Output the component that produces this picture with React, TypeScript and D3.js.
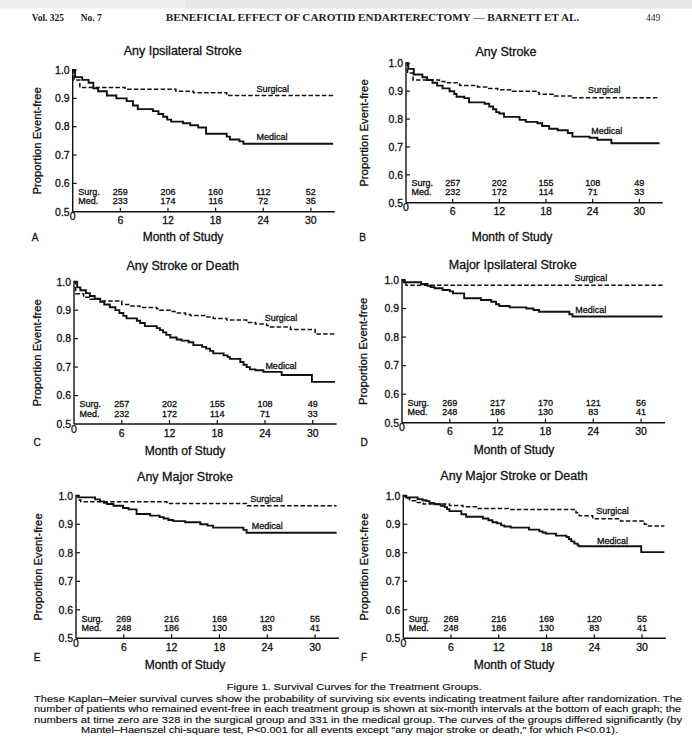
import * as d3 from 'd3'

type Pt = [number, number]

const MONTH_TICKS = [0, 6, 12, 18, 24, 30]
const RISK_MONTHS = [6, 12, 18, 24, 30]
const VALUE_TICKS = [0.5, 0.6, 0.7, 0.8, 0.9, 1.0]
const TITLES = [
  'Any Ipsilateral Stroke',
  'Any Stroke',
  'Any Stroke or Death',
  'Major Ipsilateral Stroke',
  'Any Major Stroke',
  'Any Major Stroke or Death',
]
const LETTERS = ['A', 'B', 'C', 'D', 'E', 'F']

// Kaplan-Meier steps, [month, proportion event-free]
const ipsiSurgical: Pt[] = [[0, 1], [0.15, 0.965], [0.9, 0.938], [6.6, 0.932], [13, 0.925], [15.2, 0.92], [19.4, 0.91], [32.8, 0.91]]
const ipsiMedical: Pt[] = [
  [0, 1], [0.3, 0.975], [1.2, 0.965], [2.0, 0.955], [2.6, 0.935], [3.2, 0.925], [4.3, 0.91], [5.5, 0.9],
  [6.8, 0.89], [7.6, 0.875], [8.2, 0.862], [10.1, 0.855], [10.8, 0.845], [11.4, 0.835], [11.9, 0.825],
  [12.4, 0.818], [13.9, 0.812], [14.8, 0.805], [15.8, 0.797], [16.8, 0.775], [19.4, 0.765], [19.8, 0.755],
  [21.0, 0.748], [21.5, 0.74], [32.8, 0.74],
]
const anySurgical: Pt[] = [
  [0, 1], [0.2, 0.965], [0.9, 0.94], [4.3, 0.935], [5.0, 0.93], [6.9, 0.92], [9.2, 0.915], [10.5, 0.91],
  [11.8, 0.905], [13.7, 0.9], [16.7, 0.895], [17.1, 0.889], [19.1, 0.883], [21.4, 0.876], [32.6, 0.876],
]
const anyMedical: Pt[] = [
  [0, 1], [0.3, 0.98], [1.0, 0.96], [2.1, 0.95], [2.7, 0.94], [3.4, 0.93], [4.0, 0.92], [4.7, 0.91],
  [5.6, 0.9], [6.2, 0.89], [6.5, 0.88], [7.5, 0.875], [8.1, 0.86], [10.1, 0.855], [10.7, 0.845],
  [11.2, 0.835], [11.6, 0.825], [12.0, 0.82], [12.6, 0.808], [14.6, 0.797], [15.4, 0.79], [16.9, 0.785],
  [17.5, 0.775], [18.4, 0.765], [19.5, 0.76], [20.8, 0.75], [21.4, 0.737], [23.6, 0.733], [24.6, 0.726],
  [26.4, 0.713], [32.6, 0.713],
]
const deathSurgical: Pt[] = [
  [0, 1], [0.2, 0.958], [1.2, 0.945], [2.0, 0.938], [3.5, 0.932], [6.0, 0.92], [7.0, 0.915], [8.3, 0.909],
  [10.4, 0.905], [10.8, 0.9], [12.1, 0.895], [12.7, 0.89], [14.0, 0.885], [14.6, 0.881], [16.7, 0.876],
  [17.5, 0.871], [19.2, 0.865], [21.7, 0.857], [22.8, 0.851], [24.2, 0.846], [24.7, 0.841], [27.2, 0.832],
  [30.3, 0.816], [32.8, 0.816],
]
const deathMedical: Pt[] = [
  [0, 1], [0.4, 0.98], [0.8, 0.97], [1.5, 0.96], [2.0, 0.95], [2.6, 0.94], [3.3, 0.929], [3.8, 0.92],
  [4.5, 0.91], [5.2, 0.9], [5.7, 0.89], [6.2, 0.88], [6.6, 0.871], [7.9, 0.863], [8.3, 0.855], [8.9, 0.844],
  [10.4, 0.837], [10.8, 0.83], [11.2, 0.822], [11.6, 0.813], [12.1, 0.804], [12.9, 0.797], [13.5, 0.793],
  [14.4, 0.787], [15.0, 0.777], [16.1, 0.771], [16.6, 0.765], [17.1, 0.757], [17.5, 0.748], [18.8, 0.741],
  [19.3, 0.735], [19.6, 0.729], [20.9, 0.718], [21.3, 0.708], [21.7, 0.7], [22.1, 0.692], [22.8, 0.689],
  [23.8, 0.683], [26.1, 0.672], [29.9, 0.648], [32.8, 0.648],
]
const majIpsiSurgical: Pt[] = [[0, 1], [0.2, 0.99], [0.5, 0.982], [32.7, 0.982]]
const majIpsiMedical: Pt[] = [
  [0, 1], [0.3, 0.992], [2.4, 0.986], [3.2, 0.98], [3.6, 0.975], [4.1, 0.971], [5.1, 0.965], [6.0, 0.96],
  [6.4, 0.953], [7.8, 0.936], [9.9, 0.93], [11.2, 0.924], [11.8, 0.915], [12.2, 0.909], [13.5, 0.904],
  [15.6, 0.9], [16.5, 0.895], [17.2, 0.889], [21.0, 0.88], [21.4, 0.872], [32.7, 0.872],
]
const majorSurgical: Pt[] = [[0, 1], [0.3, 0.985], [0.6, 0.979], [11.4, 0.973], [21.4, 0.965], [32.7, 0.965]]
const majorMedical: Pt[] = [
  [0, 1], [0.3, 0.994], [2.4, 0.987], [3.0, 0.98], [3.5, 0.975], [3.9, 0.971], [4.7, 0.965], [5.9, 0.957],
  [6.6, 0.952], [7.6, 0.936], [9.3, 0.93], [10.5, 0.925], [11.0, 0.92], [11.6, 0.915], [12.2, 0.911],
  [13.7, 0.907], [15.6, 0.9], [16.5, 0.895], [17.2, 0.888], [21.0, 0.88], [21.4, 0.87], [32.7, 0.87],
]
const majDeathSurgical: Pt[] = [
  [0, 1], [0.3, 0.99], [0.8, 0.982], [1.6, 0.976], [2.5, 0.971], [5.8, 0.966], [7.5, 0.961], [9.3, 0.955],
  [13.3, 0.952], [21.7, 0.94], [22.1, 0.93], [23.8, 0.919], [27.3, 0.911], [30.3, 0.9], [30.7, 0.894],
  [32.8, 0.894],
]
const majDeathMedical: Pt[] = [
  [0, 1], [0.3, 0.994], [1.8, 0.988], [2.4, 0.984], [2.9, 0.981], [3.3, 0.975], [3.9, 0.97], [4.7, 0.965],
  [5.2, 0.96], [5.5, 0.953], [5.8, 0.946], [7.3, 0.935], [7.9, 0.926], [10.0, 0.92], [10.7, 0.914],
  [11.2, 0.907], [11.8, 0.903], [12.3, 0.896], [12.7, 0.892], [13.5, 0.888], [15.8, 0.881], [17.1, 0.875],
  [17.5, 0.871], [17.9, 0.867], [19.2, 0.86], [20.5, 0.855], [20.8, 0.848], [21.1, 0.84], [21.5, 0.832],
  [21.9, 0.826], [22.1, 0.823], [29.9, 0.802], [32.8, 0.802],
]

// numbers still event-free at 6, 12, 18, 24, 30 months
const ipsiSurgN = [259, 206, 160, 112, 52]
const ipsiMedN = [233, 174, 116, 72, 35]
const anySurgN = [257, 202, 155, 108, 49]
const anyMedN = [232, 172, 114, 71, 33]
const deathSurgN = [257, 202, 155, 108, 49]
const deathMedN = [232, 172, 114, 71, 33]
const majIpsiSurgN = [269, 217, 170, 121, 56]
const majIpsiMedN = [248, 186, 130, 83, 41]
const majorSurgN = [269, 216, 169, 120, 55]
const majorMedN = [248, 186, 130, 83, 41]
const majDeathSurgN = [269, 216, 169, 120, 55]
const majDeathMedN = [248, 186, 130, 83, 41]

const CAPTION_TITLE = 'Figure 1. Survival Curves for the Treatment Groups.'
const CAPTION_LINES = [
  'These Kaplan\u2013Meier survival curves show the probability of surviving six events indicating treatment failure after randomization. The',
  'number of patients who remained event-free in each treatment group is shown at six-month intervals at the bottom of each graph; the',
  'numbers at time zero are 328 in the surgical group and 331 in the medical group. The curves of the groups differed significantly (by',
  'Mantel\u2013Haenszel chi-square test, P<0.001 for all events except "any major stroke or death," for which P<0.01).',
]

const SANS = '"Liberation Sans", Arial, Helvetica, sans-serif'
const SERIF = '"Liberation Serif", "Times New Roman", serif'
const INK = '#111'

// page layout of each panel (axis origin, plot size, label spots)
const LAYOUT = [
  { x0: 72.7, y0: 211.7, w: 262, h: 141.7, tx: 182.7, ty: 54.5, mx: 183, my: 241, lx: 35, ly: 241, yl: 41, sLab: [25.2, 0.934], mLab: [25.1, 0.764] },
  { x0: 406, y0: 202.7, w: 256.7, h: 139.4, tx: 506, ty: 56, mx: 512, my: 241, lx: 362.7, ly: 241, yl: 368, sLab: [25.5, 0.905], mLab: [25.8, 0.758] },
  { x0: 74, y0: 424, w: 262.6, h: 142.3, tx: 182.7, ty: 269.5, mx: 185, my: 455, lx: 37, ly: 445.5, yl: 40.7, sLab: [26.0, 0.873], mLab: [26.0, 0.703] },
  { x0: 402, y0: 422.7, w: 263, h: 142.7, tx: 512.7, ty: 268.5, mx: 514, my: 454, lx: 364, ly: 445.5, yl: 366.7, sLab: [23.7, 1.007], mLab: [23.7, 0.897] },
  { x0: 76, y0: 638.3, w: 263, h: 142.6, tx: 185, ty: 481, mx: 185, my: 669, lx: 37, ly: 660.5, yl: 41.7, sLab: [23.9, 0.99], mLab: [24.0, 0.895] },
  { x0: 403.3, y0: 638.3, w: 262.6, h: 142.6, tx: 514, ty: 479.5, mx: 514, my: 669, lx: 364, ly: 660.5, yl: 368.3, sLab: [26.3, 0.946], mLab: [26.3, 0.843] },
]

const SERIES = [
  [ipsiSurgical, ipsiMedical, ipsiSurgN, ipsiMedN],
  [anySurgical, anyMedical, anySurgN, anyMedN],
  [deathSurgical, deathMedical, deathSurgN, deathMedN],
  [majIpsiSurgical, majIpsiMedical, majIpsiSurgN, majIpsiMedN],
  [majorSurgical, majorMedical, majorSurgN, majorMedN],
  [majDeathSurgical, majDeathMedical, majDeathSurgN, majDeathMedN],
] as [Pt[], Pt[], number[], number[]][]

function Panel({ i }: { i: number }) {
  const L = LAYOUT[i]
  const [surg, med, surgN, medN] = SERIES[i]
  const x = d3.scaleLinear().domain([0, 33]).range([L.x0, L.x0 + L.w])
  const y = d3.scaleLinear().domain([0.5, 1.0]).range([L.y0, L.y0 - L.h])
  const step = d3.line<Pt>().x(d => x(d[0])).y(d => y(d[1])).curve(d3.curveStepAfter)

  return (
    <g fontFamily={SANS} fill={INK} stroke={INK} strokeWidth={0.3}>
      <text x={L.tx} y={L.ty} textAnchor="middle" fontSize={12.5}>{TITLES[i]}</text>

      {/* axes */}
      <line x1={L.x0} x2={L.x0} y1={L.y0} y2={y(1.0) - 1} strokeWidth={1.4} />
      <line x1={L.x0} x2={x(33)} y1={L.y0} y2={L.y0} strokeWidth={1.4} />
      {VALUE_TICKS.filter(v => v > 0.5).map(v => (
        <line key={v} x1={L.x0} x2={L.x0 + 4} y1={y(v)} y2={y(v)} strokeWidth={1.2} />
      ))}
      {MONTH_TICKS.filter(m => m > 0).map(m => (
        <line key={m} x1={x(m)} x2={x(m)} y1={L.y0} y2={L.y0 - 4} strokeWidth={1.2} />
      ))}
      {VALUE_TICKS.map(v => (
        <text key={v} x={L.x0 - 3} y={y(v) + 3.8} textAnchor="end" fontSize={10.5}>{v.toFixed(1)}</text>
      ))}
      {MONTH_TICKS.map(m => (
        <text key={m} x={x(m)} y={L.y0 + (m === 0 ? 8.5 : 12.5)} textAnchor="middle" fontSize={10.5}>{m}</text>
      ))}

      {/* axis titles */}
      <text x={L.mx} y={L.my} textAnchor="middle" fontSize={12}>Month of Study</text>
      <text transform={`translate(${L.yl},${L.y0 - L.h / 2}) rotate(-90)`} textAnchor="middle" fontSize={11.3}>Proportion Event-free</text>
      <text x={L.lx} y={L.ly} textAnchor="middle" fontSize={10}>{LETTERS[i]}</text>

      {/* curves */}
      <path d={step(surg) ?? ''} fill="none" strokeWidth={1.5} strokeDasharray="4.5 2.2" />
      <path d={step(med) ?? ''} fill="none" strokeWidth={1.9} />
      <text x={x(L.sLab[0])} y={y(L.sLab[1]) + 3.2} textAnchor="middle" fontSize={9}>Surgical</text>
      <text x={x(L.mLab[0])} y={y(L.mLab[1]) + 3.2} textAnchor="middle" fontSize={9}>Medical</text>

      {/* numbers at risk */}
      <text x={L.x0 + 5.5} y={L.y0 - 16.7} fontSize={9}>Surg.</text>
      <text x={L.x0 + 5.5} y={L.y0 - 7.3} fontSize={9}>Med.</text>
      {RISK_MONTHS.map((m, k) => (
        <g key={m}>
          <text x={x(m)} y={L.y0 - 16.7} textAnchor="middle" fontSize={9}>{surgN[k]}</text>
          <text x={x(m)} y={L.y0 - 7.3} textAnchor="middle" fontSize={9}>{medN[k]}</text>
        </g>
      ))}
    </g>
  )
}

export default function App() {
  return (
    <svg width={692} height={743} style={{ position: 'absolute', left: 0, top: 0, background: '#fff' }}>
      <rect x={0} y={0} width={692} height={743} fill="#fff" />
      <rect x={0} y={0} width={692} height={8.5} fill="#efefef" />
      <rect x={185} y={0} width={507} height={8.5} fill="#e6e6e6" />

      <g fontFamily={SERIF} fontWeight="bold" fill="#222" fontSize={9.5}>
        <text x={31.7} y={21}>Vol. 325</text>
        <text x={80.7} y={21}>No. 7</text>
        <text x={165.7} y={21} textLength={413.6} lengthAdjust="spacingAndGlyphs">
          BENEFICIAL EFFECT OF CAROTID ENDARTERECTOMY {'\u2014'} BARNETT ET AL.
        </text>
        <text x={646} y={21} fontWeight="normal">449</text>
      </g>

      {LAYOUT.map((_, i) => <Panel key={i} i={i} />)}

      <g fontFamily={SANS} fill={INK} stroke={INK} strokeWidth={0.15} fontSize={9.4}>
        <text x={226.7} y={690} textLength={255} lengthAdjust="spacingAndGlyphs">{CAPTION_TITLE}</text>
        <text x={34} y={702} textLength={648} lengthAdjust="spacingAndGlyphs">{CAPTION_LINES[0]}</text>
        <text x={34} y={712.3} textLength={647} lengthAdjust="spacingAndGlyphs">{CAPTION_LINES[1]}</text>
        <text x={34} y={722.5} textLength={648} lengthAdjust="spacingAndGlyphs">{CAPTION_LINES[2]}</text>
        <text x={81} y={732.7} textLength={537} lengthAdjust="spacingAndGlyphs">{CAPTION_LINES[3]}</text>
      </g>
    </svg>
  )
}
